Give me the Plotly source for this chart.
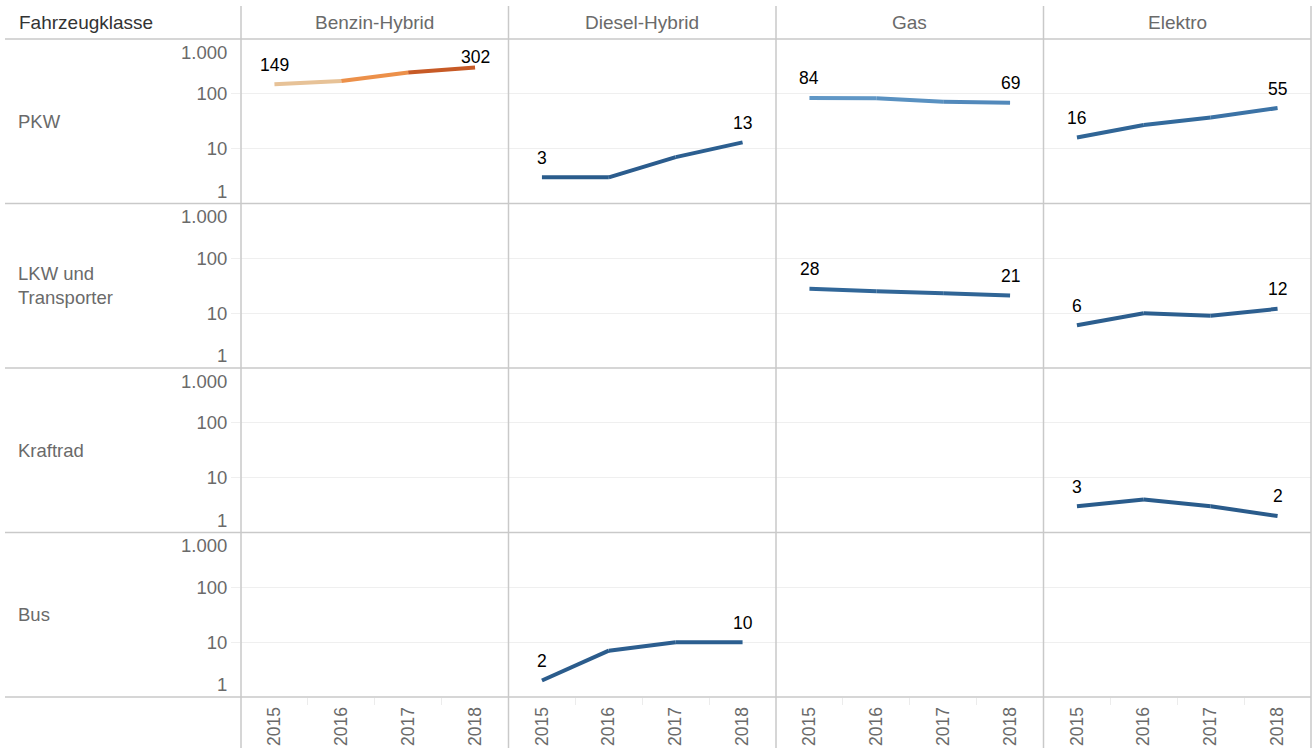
import math
import plotly.graph_objects as go
from plotly.subplots import make_subplots
from plotly.colors import sample_colorscale

# ---------------- data ----------------
years = [2015, 2016, 2017, 2018]
year_labels = ["2015", "2016", "2017", "2018"]
vehicle_classes = ["PKW", "LKW und<br>Transporter", "Kraftrad", "Bus"]
fuel_types = ["Benzin-Hybrid", "Diesel-Hybrid", "Gas", "Elektro"]
row_header = "Fahrzeugklasse"
y_tick_values = [1, 10, 100, 1000]
y_tick_labels = ["1", "10", "100", "1.000"]

pkw_benzin_hybrid = [149, 172, 244, 302]
pkw_diesel_hybrid = [3, 3, 7, 13]
pkw_gas = [84, 83, 72, 69]
pkw_elektro = [16, 27, 37, 55]
lkw_gas = [28, 25, 23, 21]
lkw_elektro = [6, 10, 9, 12]
kraftrad_elektro = [3, 4, 3, 2]
bus_diesel_hybrid = [2, 7, 10, 10]

# (row index, column index, values)
series = [
    (0, 0, pkw_benzin_hybrid),
    (0, 1, pkw_diesel_hybrid),
    (0, 2, pkw_gas),
    (0, 3, pkw_elektro),
    (1, 2, lkw_gas),
    (1, 3, lkw_elektro),
    (2, 3, kraftrad_elektro),
    (3, 1, bus_diesel_hybrid),
]

# ---------------- style ----------------
FONT = "Liberation Sans, Arial, Helvetica, sans-serif"
GRID = "#efefef"
BORDER = "#c9c9c9"
LABEL_GRAY = "#6a6a6a"
colorscale = [
    [0.00, "#2a5b8b"], [0.10, "#336a9c"], [0.18, "#4279ae"],
    [0.27, "#5f97c6"], [0.40, "#a9bdcc"], [0.49, "#d3d4cd"],
    [0.56, "#f7b46a"], [0.79, "#e3722f"], [1.00, "#b0461f"],
]
all_vals = [v for _, _, vals in series for v in vals]
vmin, vmax = min(all_vals), max(all_vals)


def norm(v):
    return (v - vmin) / (vmax - vmin)


nrows, ncols = len(vehicle_classes), len(fuel_types)
fig = make_subplots(rows=nrows, cols=ncols, horizontal_spacing=0, vertical_spacing=0)


def ax_id(r, c):
    i = r * ncols + c + 1
    return ("x" if i == 1 else f"x{i}"), ("y" if i == 1 else f"y{i}")


# placeholder (empty) trace in every panel so each subplot is fully built
for r in range(nrows):
    for c in range(ncols):
        fig.add_trace(
            go.Scatter(x=years, y=[None] * len(years), mode="lines",
                       hoverinfo="skip", showlegend=False),
            row=r + 1, col=c + 1,
        )

# lines, coloured by value (one piece per segment)
for r, c, vals in series:
    for i in range(len(years) - 1):
        t = (norm(vals[i]) + norm(vals[i + 1])) / 2
        col = sample_colorscale(colorscale, [t])[0]
        fig.add_trace(
            go.Scatter(
                x=years[i:i + 2], y=vals[i:i + 2], mode="lines",
                line=dict(color=col, width=4), hoverinfo="skip",
            ),
            row=r + 1, col=c + 1,
        )
    xa, ya = ax_id(r, c)
    for j in (0, len(years) - 1):
        lv = math.log10(vals[j])
        shift = 10.5 if lv > 2.4 else 19.5   # keep labels near the panel top inside it
        fig.add_annotation(
            x=years[j], y=lv, xref=xa, yref=ya,
            text=str(vals[j]), showarrow=False, yanchor="middle", yshift=shift,
            font=dict(family=FONT, size=17.5, color="#000000"),
        )

# axes
for r in range(nrows):
    for c in range(ncols):
        fig.update_xaxes(
            type="linear", automargin=False,
            range=[years[0] - 0.5, years[-1] + 0.5],
            tickmode="array", tickvals=years, ticktext=year_labels,
            showgrid=False, zeroline=False, showline=False,
            showticklabels=(r == nrows - 1),
            ticks="outside" if r == nrows - 1 else "",
            ticklen=2, tickcolor="#ffffff",
            tickangle=-90,
            tickfont=dict(family=FONT, size=17.5, color=LABEL_GRAY),
            minor=dict(
                tickmode="array",
                tickvals=[y + 0.5 for y in years[:-1]],
                ticks="outside" if r == nrows - 1 else "",
                ticklen=7, tickcolor="#ececec", showgrid=False,
            ),
            fixedrange=True,
            row=r + 1, col=c + 1,
        )
        fig.update_yaxes(
            type="log", automargin=False,
            range=[math.log10(y_tick_values[0]), math.log10(y_tick_values[-1])],
            tickmode="array", tickvals=y_tick_values[1:-1], ticktext=y_tick_labels[1:-1],
            showgrid=True, gridcolor=GRID, gridwidth=1,
            zeroline=False, showline=False,
            showticklabels=(c == 0),
            ticks="outside" if c == 0 else "",
            ticklen=9, tickcolor=GRID,
            tickfont=dict(family=FONT, size=18.5, color=LABEL_GRAY),
            fixedrange=True,
            row=r + 1, col=c + 1,
        )

# edge y labels (1.000 at top, 1 at bottom), shifted inside each row like the original
for r in range(nrows):
    xa, ya = ax_id(r, 0)
    for val, lab, shift in ((y_tick_values[-1], y_tick_labels[-1], -13),
                            (y_tick_values[0], y_tick_labels[0], 12.5)):
        fig.add_annotation(
            x=0, xref=f"{xa} domain", y=math.log10(val), yref=ya,
            text=lab, showarrow=False, xanchor="right", xshift=-12,
            yanchor="middle", yshift=shift,
            font=dict(family=FONT, size=18.5, color=LABEL_GRAY),
        )

# geometry in pixels -> paper
W, H = 1313, 748
ML, MR, MT, MB = 241, 2, 39, 51
PW, PH = W - ML - MR, H - MT - MB


def px_x(px):
    return (px - ML) / PW


def px_y(py):
    return (H - MB - py) / PH


# header texts
fig.add_annotation(
    x=px_x(17), y=px_y(22.5), xref="paper", yref="paper", text=row_header,
    showarrow=False, xanchor="left", yanchor="middle",
    font=dict(family=FONT, size=19, color="#333333"),
)
for c, name in enumerate(fuel_types):
    fig.add_annotation(
        x=(c + 0.5) / ncols, y=px_y(22.5), xref="paper", yref="paper", text=name,
        showarrow=False, xanchor="center", yanchor="middle",
        font=dict(family=FONT, size=19, color=LABEL_GRAY),
    )
for r, name in enumerate(vehicle_classes):
    fig.add_annotation(
        x=px_x(16), y=1 - (r + 0.5) / nrows, xref="paper", yref="paper", text=name,
        showarrow=False, xanchor="left", yanchor="middle", align="left",
        font=dict(family=FONT, size=18.5, color=LABEL_GRAY),
    )

# separator lines
shapes = []
for c in range(ncols + 1):
    shapes.append(dict(type="line", xref="paper", yref="paper",
                       x0=c / ncols, x1=c / ncols, y0=px_y(6), y1=px_y(H),
                       line=dict(color=BORDER, width=1.5)))
for r in range(nrows + 1):
    shapes.append(dict(type="line", xref="paper", yref="paper",
                       x0=px_x(5), x1=1, y0=r / nrows, y1=r / nrows,
                       line=dict(color=BORDER, width=1.5)))

fig.update_layout(
    width=W, height=H,
    margin=dict(l=ML, r=MR, t=MT, b=MB, pad=0, autoexpand=False),
    plot_bgcolor="#ffffff", paper_bgcolor="#ffffff",
    showlegend=False, shapes=shapes,
    font=dict(family=FONT),
)

fig.write_html(
    "out.html",
    config={"displayModeBar": False},
    post_script="document.body.style.margin='0';document.body.style.overflow='hidden';",
)
